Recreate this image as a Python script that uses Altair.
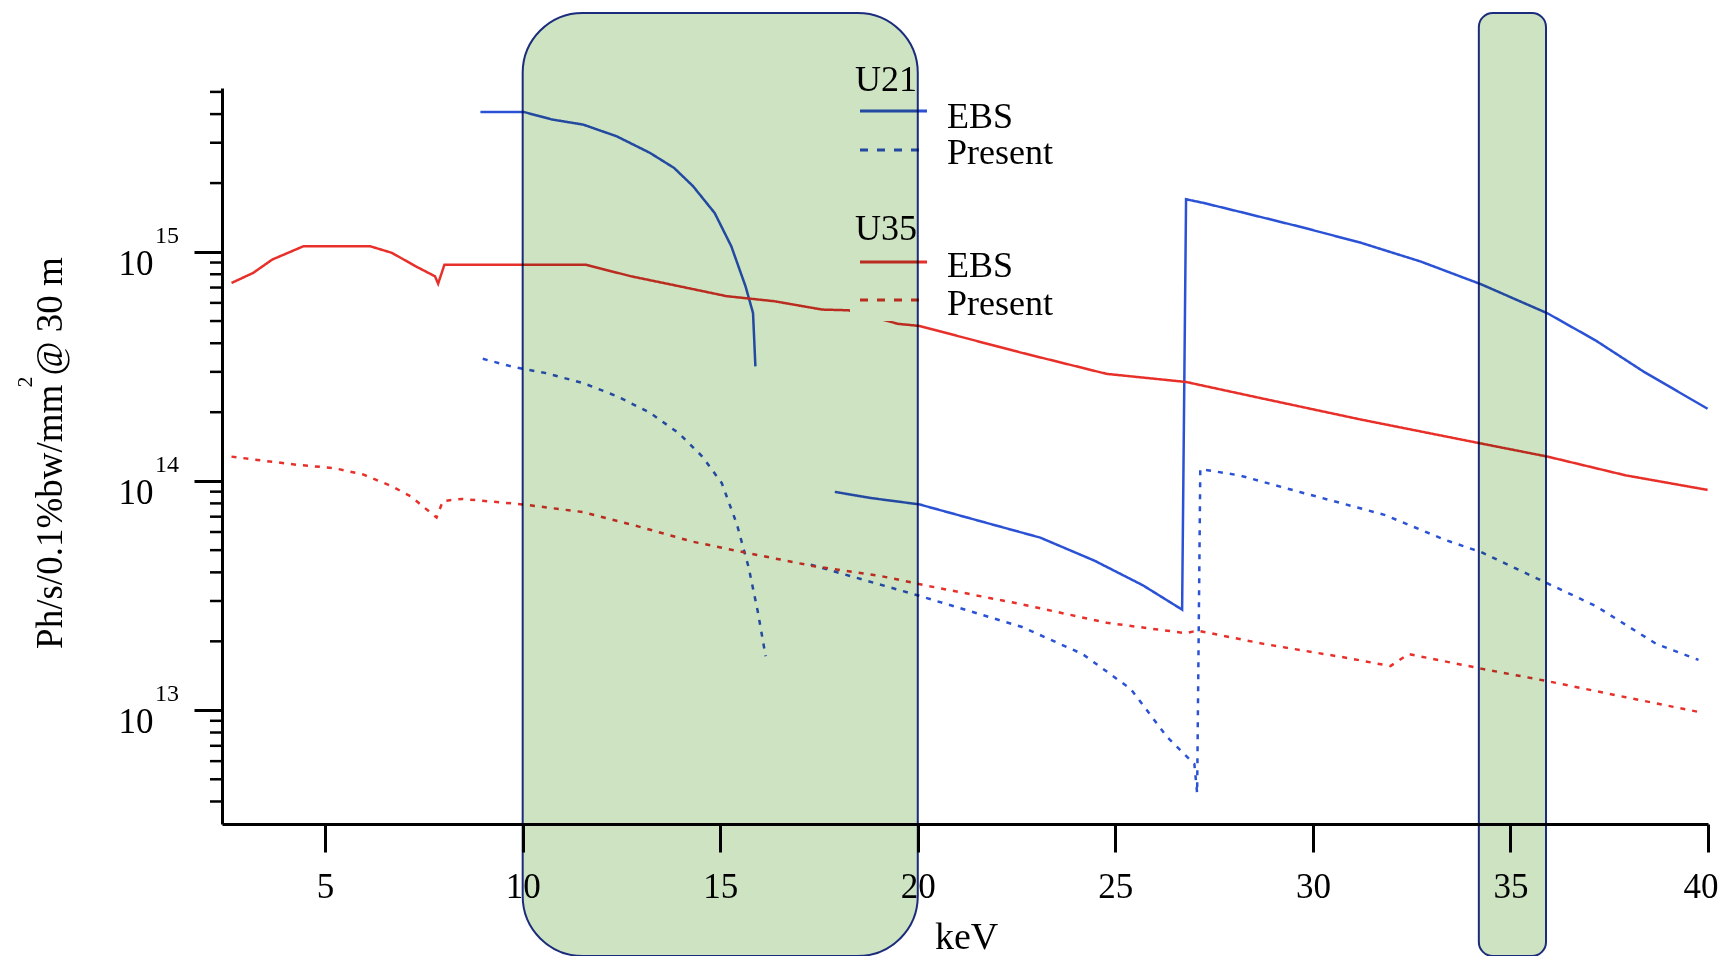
import altair as alt
import pandas as pd

FONT = "Liberation Serif"
BLUE = "#2b52d4"
RED = "#e8302a"

# ---------------- data ----------------
u21_ebs_1_kev = [8.93, 10.02, 10.74, 11.53, 12.38, 13.22, 13.83, 14.31, 14.86, 15.28, 15.64, 15.83, 15.89]
u21_ebs_1_flux = [4.09e15, 4.09e15, 3.79e15, 3.60e15, 3.20e15, 2.71e15, 2.33e15, 1.94e15, 1.48e15, 1.06e15, 7.09e14, 5.42e14, 3.17e14]

u21_ebs_2_kev = [17.90, 18.82, 20.04, 21.57, 23.10, 24.47, 25.70, 26.69, 26.79, 27.22, 28.14, 29.67, 31.20, 32.73, 34.26, 35.94, 37.16, 38.38, 39.99]
u21_ebs_2_flux = [8.98e13, 8.44e13, 7.92e13, 6.70e13, 5.67e13, 4.50e13, 3.51e13, 2.75e13, 1.70e15, 1.64e15, 1.50e15, 1.29e15, 1.10e15, 9.09e14, 7.23e14, 5.40e14, 4.11e14, 3.00e14, 2.07e14]

u21_present_1_kev = [8.99, 9.77, 10.56, 11.53, 12.38, 13.22, 13.95, 14.55, 15.04, 15.42, 15.72, 15.95, 16.15]
u21_present_1_flux = [3.42e14, 3.15e14, 2.97e14, 2.68e14, 2.35e14, 1.99e14, 1.62e14, 1.28e14, 9.8e13, 6.5e13, 4.2e13, 2.7e13, 1.72e13]

u21_present_2_kev = [17.29, 20.04, 22.64, 24.17, 25.39, 26.31, 27.00, 27.07, 27.15, 28.14, 29.67, 31.81, 33.34, 34.26, 35.94, 37.16, 38.69, 39.76]
u21_present_2_flux = [4.32e13, 3.16e13, 2.31e13, 1.76e13, 1.24e13, 7.65e12, 5.83e12, 4.35e12, 1.13e14, 1.06e14, 8.97e13, 7.13e13, 5.55e13, 4.90e13, 3.58e13, 2.85e13, 1.95e13, 1.66e13]

u35_ebs_kev = [2.63, 3.18, 3.66, 4.45, 6.14, 6.69, 7.29, 7.78, 7.86, 8.02, 11.59, 12.74, 13.95, 15.16, 16.37, 17.58, 18.25, 19.50, 20.04, 22.64, 24.78, 26.79, 28.75, 31.20, 34.26, 35.94, 37.92, 39.99]
u35_ebs_flux = [7.33e14, 8.11e14, 9.27e14, 1.06e15, 1.06e15, 9.92e14, 8.67e14, 7.84e14, 7.28e14, 8.81e14, 8.81e14, 7.84e14, 7.10e14, 6.42e14, 6.10e14, 5.61e14, 5.57e14, 4.86e14, 4.76e14, 3.63e14, 2.94e14, 2.71e14, 2.29e14, 1.86e14, 1.46e14, 1.28e14, 1.06e14, 9.16e13]

u35_present_kev = [2.63, 3.42, 4.27, 5.23, 5.96, 6.69, 7.17, 7.82, 7.98, 8.46, 9.99, 11.53, 12.92, 14.31, 15.71, 16.52, 17.38, 19.05, 20.19, 22.64, 24.78, 26.79, 27.07, 28.75, 30.89, 31.96, 32.42, 34.26, 35.94, 37.92, 39.76]
u35_present_flux = [1.28e14, 1.23e14, 1.18e14, 1.14e14, 1.07e14, 9.5e13, 8.58e13, 6.94e13, 8.19e13, 8.37e13, 7.92e13, 7.33e13, 6.35e13, 5.44e13, 4.85e13, 4.55e13, 4.25e13, 3.86e13, 3.51e13, 2.90e13, 2.41e13, 2.17e13, 2.23e13, 1.95e13, 1.69e13, 1.56e13, 1.76e13, 1.52e13, 1.34e13, 1.14e13, 9.84e12]

x_ticks = [5, 10, 15, 20, 25, 30, 35, 40]
y_major = [1e13, 1e14, 1e15]
y_exponents = ["13", "14", "15"]
y_minor = [4e12, 5e12, 6e12, 7e12, 8e12, 9e12,
           2e13, 3e13, 4e13, 5e13, 6e13, 7e13, 8e13, 9e13,
           2e14, 3e14, 4e14, 5e14, 6e14, 7e14, 8e14, 9e14,
           2e15, 3e15, 4e15, 5e15]

box_start = [10.0, 34.2]
box_end = [20.0, 35.9]

# ---------------- build table ----------------
rows = []
def add(und, kind, seg, kev, flux):
    for k, f in zip(kev, flux):
        rows.append({"keV": k, "flux": f, "und": und, "kind": kind, "seg": seg})

add("U21", "EBS", "a", u21_ebs_1_kev, u21_ebs_1_flux)
add("U21", "EBS", "b", u21_ebs_2_kev, u21_ebs_2_flux)
add("U21", "Present", "c", u21_present_1_kev, u21_present_1_flux)
add("U21", "Present", "d", u21_present_2_kev, u21_present_2_flux)
add("U35", "EBS", "e", u35_ebs_kev, u35_ebs_flux)
add("U35", "Present", "f", u35_present_kev, u35_present_flux)
df = pd.DataFrame(rows)

one = pd.DataFrame({"k": [0]})

xscale = alt.Scale(domain=[2.39, 40], nice=False, zero=False)
yscale = alt.Scale(type="log", domain=[3.19e12, 5.2e15], nice=False)

x_axis = alt.Axis(values=x_ticks, format="d", title=None, grid=False,
                  tickSize=28, tickWidth=3, tickColor="black",
                  domainWidth=3, domainColor="black",
                  labelFont=FONT, labelFontSize=35, labelColor="black",
                  labelPadding=17, labelBaseline="top", labelFlush=1,
                  labelFlushOffset=10, labelOverlap=False)
y_axis = alt.Axis(values=y_major, labelExpr="'10'", title=None, grid=False,
                  tickSize=28, tickWidth=3, tickColor="black",
                  domainWidth=3, domainColor="black",
                  labelFont=FONT, labelFontSize=35, labelColor="black",
                  labelPadding=41, labelBaseline="alphabetic", labelOffset=22,
                  labelAlign="right", labelOverlap=False, labelFlush=False)

lines = alt.Chart(df).mark_line(strokeWidth=2.5).encode(
    x=alt.X("keV:Q", scale=xscale, axis=x_axis),
    y=alt.Y("flux:Q", scale=yscale, axis=y_axis),
    color=alt.Color("und:N", scale=alt.Scale(domain=["U21", "U35"], range=[BLUE, RED]), legend=None),
    strokeDash=alt.StrokeDash("kind:N", scale=alt.Scale(domain=["EBS", "Present"], range=[[1, 0], [5, 7]]), legend=None),
    detail="seg:N",
)

minor = alt.Chart(pd.DataFrame({"flux": y_minor})).mark_rule(color="black", strokeWidth=2.5).encode(
    y=alt.Y("flux:Q", scale=yscale, axis=y_axis),
    x=alt.value(-12), x2=alt.value(2),
)

exps = alt.Chart(pd.DataFrame({"flux": y_major, "exp": y_exponents})).mark_text(
    font=FONT, fontSize=24, align="left", baseline="alphabetic", dy=-9, color="black"
).encode(
    y=alt.Y("flux:Q", scale=yscale, axis=y_axis),
    x=alt.value(-67),
    text="exp:N",
)

def txt(s, x, y, size=36, align="left", angle=0):
    return alt.Chart(one).mark_text(text=s, font=FONT, fontSize=size, align=align,
                                    baseline="alphabetic", color="black", angle=angle).encode(
        x=alt.value(x), y=alt.value(y))

def seg_line(x1, x2, y, color, dash):
    return alt.Chart(one).mark_rule(color=color, strokeWidth=3, strokeDash=dash).encode(
        x=alt.value(x1), x2=alt.value(x2), y=alt.value(y))

legend_bg = alt.Chart(one).mark_rect(fill="white").encode(
    x=alt.value(628), x2=alt.value(840), y=alt.value(-28), y2=alt.value(233))

legend = [
    legend_bg,
    txt("U21", 633, 3),
    seg_line(638, 705, 23, BLUE, [1, 0]),
    txt("EBS", 725, 40),
    seg_line(638, 705, 62, BLUE, [8, 9]),
    txt("Present", 725, 76),
    txt("U35", 633, 152),
    seg_line(638, 705, 174, RED, [1, 0]),
    txt("EBS", 725, 189),
    seg_line(638, 705, 212, RED, [8, 9]),
    txt("Present", 725, 227),
]

titles = [
    txt("keV", 713, 861, size=38),
    txt("Ph/s/0.1%bw/mm   @ 30 m", -160, 365, size=37, align="center", angle=270),
    txt("2", -190, 294, size=22, align="center", angle=270),
]

GREEN = "#cde3c1"
NAVY = "#1c2c7c"
box1 = alt.Chart(pd.DataFrame({"x1": box_start[:1], "x2": box_end[:1]})).mark_rect(
    fill=GREEN, fillOpacity=1, blend="multiply", stroke=NAVY, strokeWidth=2, cornerRadius=60
).encode(x=alt.X("x1:Q", scale=xscale, axis=x_axis), x2="x2:Q",
         y=alt.value(-75), y2=alt.value(868))
box2 = alt.Chart(pd.DataFrame({"x1": box_start[1:], "x2": box_end[1:]})).mark_rect(
    fill=GREEN, fillOpacity=1, blend="multiply", stroke=NAVY, strokeWidth=2, cornerRadius=14
).encode(x=alt.X("x1:Q", scale=xscale, axis=x_axis), x2="x2:Q",
         y=alt.value(-75), y2=alt.value(868))

chart = alt.layer(lines, minor, exps, *legend, *titles, box1, box2).properties(
    width=1486, height=736,
    autosize=alt.AutoSizeParams(type="none"),
    padding={"left": 214, "top": 80, "right": 10, "bottom": 132},
).configure_view(stroke=None)

chart.save("out.html", embed_options={"renderer": "svg", "actions": False})
